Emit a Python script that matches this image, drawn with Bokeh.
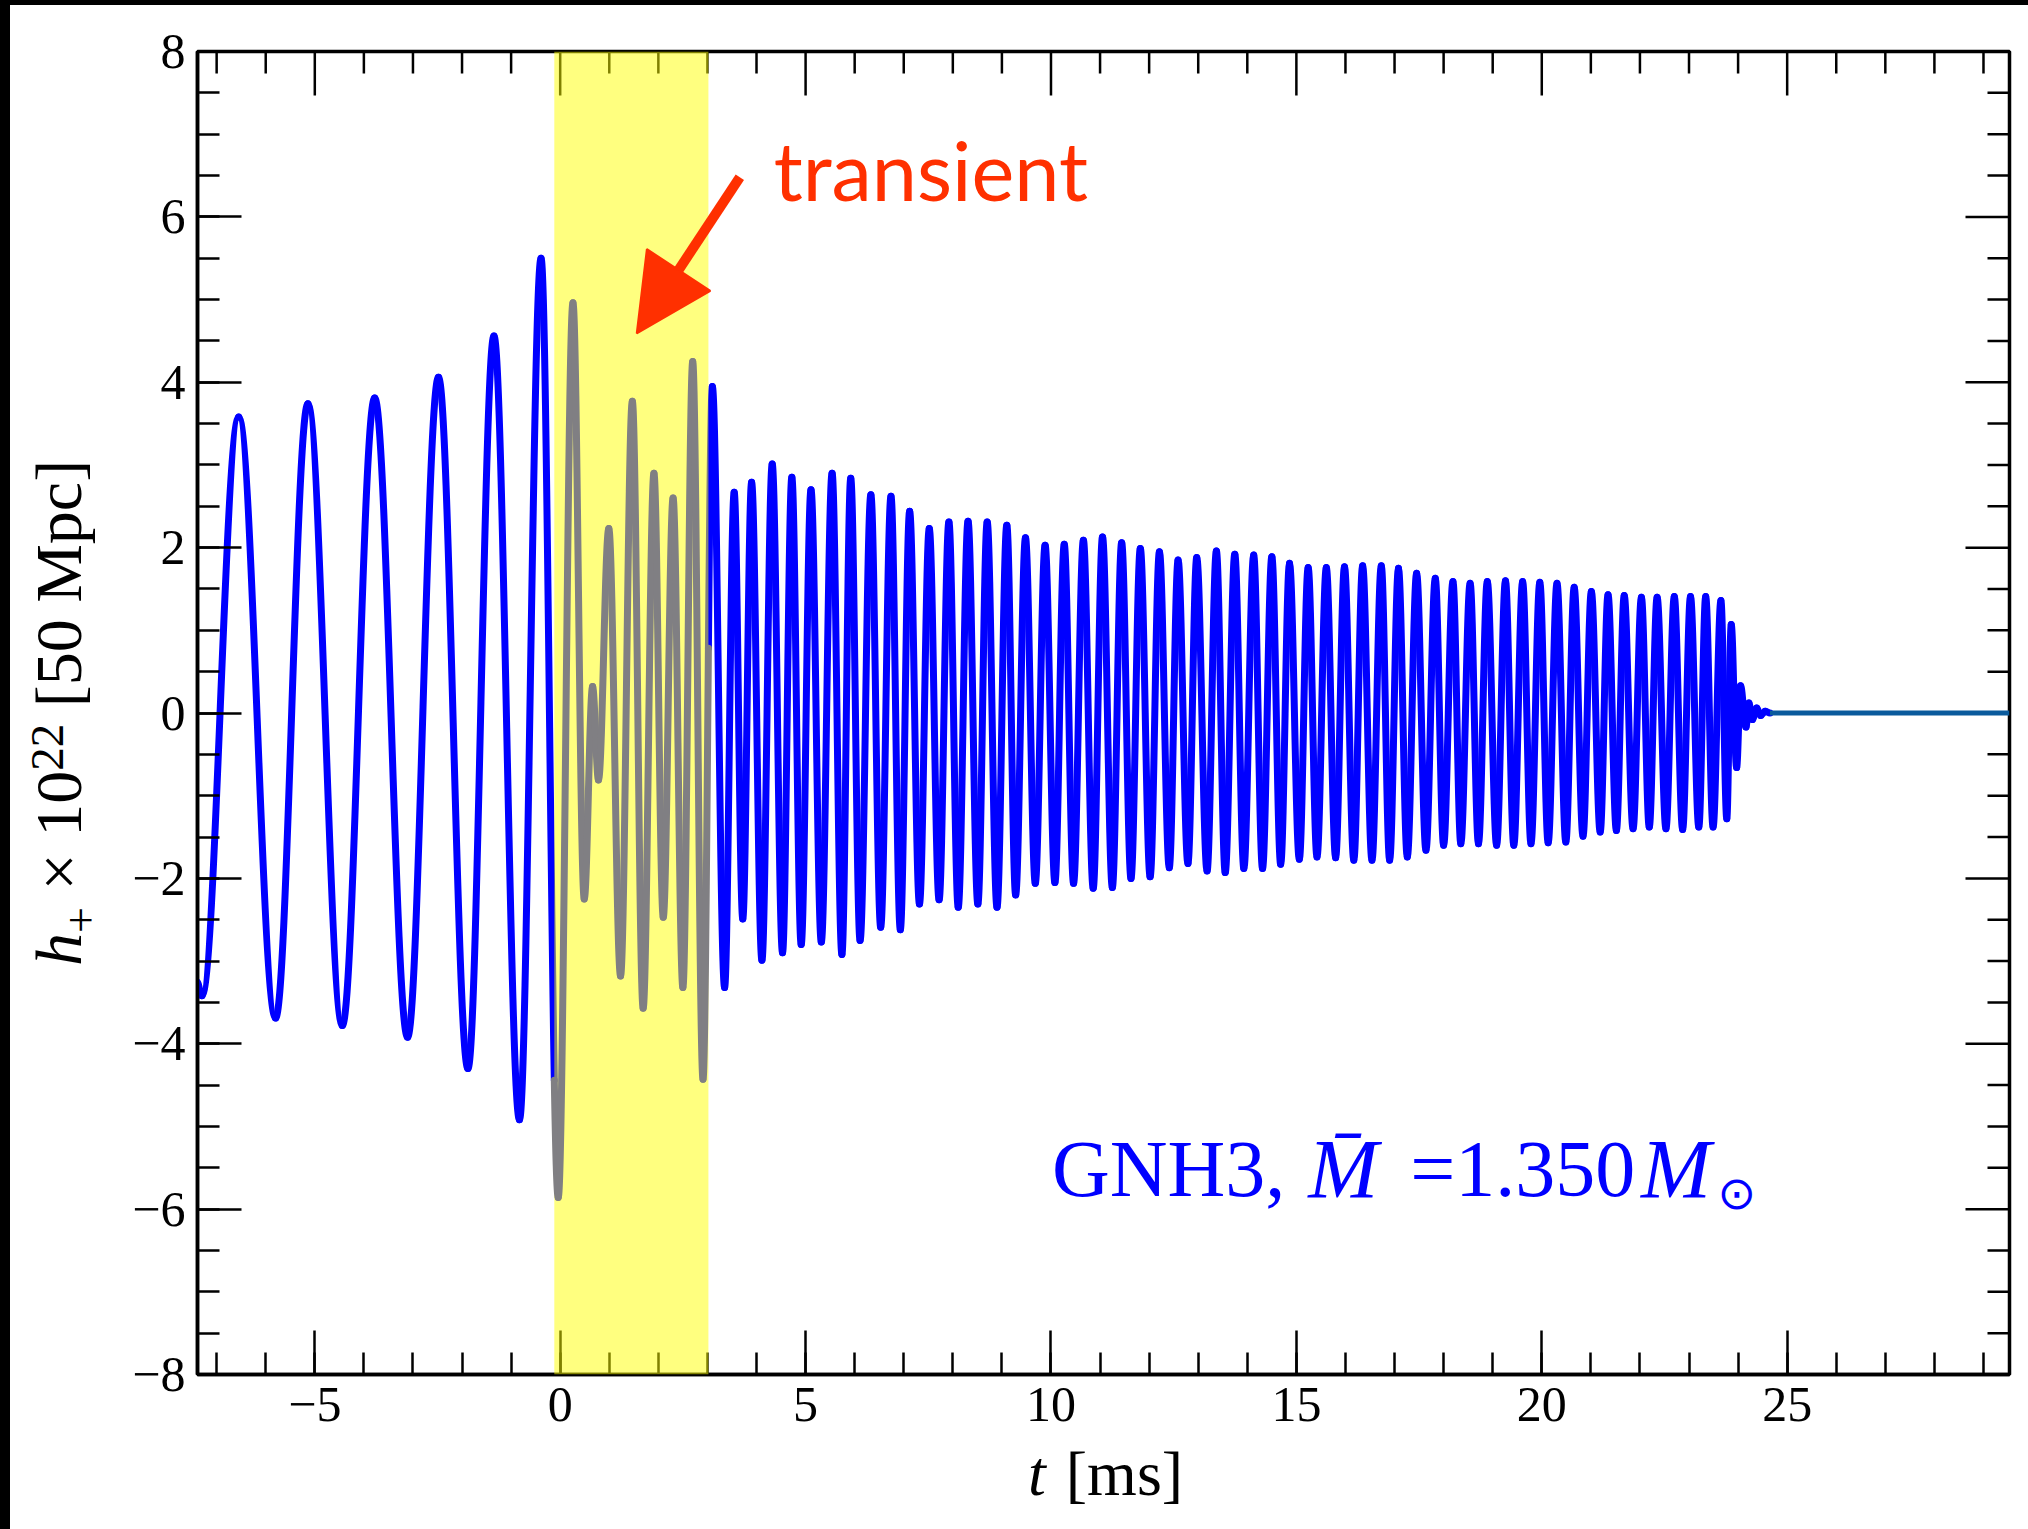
import numpy as np
from bokeh.plotting import figure
from bokeh.models import (Range1d, FixedTicker, BoxAnnotation, Arrow, NormalHead, Label,
                          Spacer, Div, ColumnDataSource, CustomJSTickFormatter)
from bokeh.layouts import column, row
from bokeh.core.properties import value
from bokeh.embed import file_html
from bokeh.resources import INLINE

# ---------------- data: extrema of the waveform ----------------
# t in ms, h_+ x 1e22 at 50 Mpc
inspiral_t = [-7.40, -7.30, -6.55, -5.80, -5.14, -4.44, -3.78, -3.11, -2.48, -1.88, -1.35, -0.83, -0.39]
inspiral_h = [-3.25, -3.42, 3.58, -3.69, 3.74, -3.78, 3.81, -3.92, 4.06, -4.30, 4.56, -4.92, 5.50]

transient_t = [-0.04, 0.26, 0.49, 0.66, 0.78, 0.99, 1.23, 1.47, 1.69, 1.91, 2.10, 2.30, 2.50, 2.70, 2.91]
transient_h = [-5.86, 4.96, -2.25, 0.32, -0.81, 2.23, -3.18, 3.77, -3.57, 2.90, -2.47, 2.60, -3.32, 4.25, -4.43]

postmerger_t = [3.10, 3.35, 3.545, 3.72, 3.90, 4.11, 4.32, 4.53, 4.72, 4.91, 5.11, 5.32, 5.54, 5.74,
                5.92, 6.11, 6.33, 6.53, 6.74, 6.93, 7.12, 7.32, 7.52, 7.72, 7.92, 8.11, 8.31, 8.51,
                8.70, 8.90, 9.10, 9.28, 9.48, 9.68, 9.88, 10.08, 10.27, 10.46, 10.66, 10.86, 11.05,
                11.25, 11.44, 11.63, 11.82, 12.02, 12.21, 12.41, 12.59, 12.79, 12.97, 13.18, 13.37,
                13.55, 13.745, 13.93, 14.13, 14.31, 14.50, 14.68, 14.86, 15.06, 15.24, 15.42, 15.61,
                15.80, 15.98, 16.17, 16.35, 16.54, 16.73, 16.90, 17.08, 17.26, 17.45, 17.64, 17.83,
                18.00, 18.19, 18.35, 18.54, 18.71, 18.89, 19.08, 19.26, 19.43, 19.61, 19.78, 19.96,
                20.13, 20.31, 20.49, 20.66, 20.84, 21.01, 21.19, 21.35, 21.52, 21.68, 21.86, 22.03,
                22.19, 22.35, 22.53, 22.70, 22.87, 23.03, 23.20, 23.34, 23.49, 23.65, 23.77, 23.86,
                23.97, 24.05, 24.16, 24.22, 24.29, 24.38, 24.46, 24.55, 24.65]
postmerger_h = [3.95, -3.32, 2.67, -2.49, 2.79, -2.99, 3.01, -2.90, 2.85, -2.80, 2.70, -2.77,
                2.90, -2.92, 2.84, -2.75, 2.64, -2.59, 2.62, -2.62, 2.44, -2.31, 2.23, -2.26,
                2.31, -2.35, 2.32, -2.31, 2.31, -2.35, 2.27, -2.20, 2.12, -2.06, 2.03, -2.05,
                2.04, -2.06, 2.09, -2.12, 2.13, -2.11, 2.06, -2.00, 1.99, -1.98, 1.95, -1.87,
                1.85, -1.82, 1.88, -1.91, 1.96, -1.93, 1.92, -1.88, 1.91, -1.88, 1.89, -1.83,
                1.81, -1.77, 1.76, -1.74, 1.76, -1.75, 1.77, -1.78, 1.78, -1.78, 1.78, -1.78,
                1.75, -1.74, 1.69, -1.66, 1.63, -1.60, 1.59, -1.58, 1.57, -1.58, 1.59, -1.60,
                1.60, -1.60, 1.59, -1.58, 1.58, -1.57, 1.57, -1.56, 1.52, -1.49, 1.47, -1.44,
                1.43, -1.42, 1.42, -1.40, 1.40, -1.38, 1.40, -1.40, 1.41, -1.41, 1.41, -1.38,
                1.41, -1.38, 1.36, -1.28, 1.07, -0.66, 0.33, -0.17, 0.12, -0.08, 0.06, -0.03,
                0.02, 0.0]

remnant_t = [24.65, 29.53]
remnant_h = [0.0, 0.0]

band_start, band_end = -0.12, 3.02          # transient window [ms]
arrow_from = (3.66, 6.48)
arrow_to = (1.56, 4.59)

x_major = [-5, 0, 5, 10, 15, 20, 25]
x_minor = list(range(-7, 30))
y_major = [-8, -6, -4, -2, 0, 2, 4, 6, 8]
y_minor = [v / 2 for v in range(-16, 17)]

X0, X1 = -7.39, 29.53
Y0, Y1 = -8.0, 8.0

# ---------------- smooth curve through the extrema (cubic Bezier pieces) ----------------
K = 0.36
T = inspiral_t + transient_t + postmerger_t
H = inspiral_h + transient_h + postmerger_h

segs = []
for i in range(len(T) - 1):
    x0, y0, x1, y1 = T[i], H[i], T[i + 1], H[i + 1]
    dx = x1 - x0
    segs.append([np.array([x0, y0]), np.array([x0 + K * dx, y0]),
                 np.array([x1 - K * dx, y1]), np.array([x1, y1])])


def split(seg, s):
    lerp = lambda a, b: a + (b - a) * s
    p01, p12, p23 = lerp(seg[0], seg[1]), lerp(seg[1], seg[2]), lerp(seg[2], seg[3])
    p012, p123 = lerp(p01, p12), lerp(p12, p23)
    m = lerp(p012, p123)
    return [seg[0], p01, p012, m], [m, p123, p23, seg[3]]


def x_at(seg, s):
    return ((1 - s) ** 3 * seg[0][0] + 3 * (1 - s) ** 2 * s * seg[1][0]
            + 3 * (1 - s) * s ** 2 * seg[2][0] + s ** 3 * seg[3][0])


def cut(seg, xc):
    lo, hi = 0.0, 1.0
    for _ in range(60):
        mid = 0.5 * (lo + hi)
        if x_at(seg, mid) < xc:
            lo = mid
        else:
            hi = mid
    return split(seg, 0.5 * (lo + hi))


pieces = []
for seg in segs:
    queue = [seg]
    for edge in (band_start, band_end):
        nxt = []
        for sg in queue:
            if sg[0][0] < edge < sg[3][0]:
                nxt.extend(cut(sg, edge))
            else:
                nxt.append(sg)
        queue = nxt
    pieces.extend(queue)

keys = ("x0", "y0", "cx0", "cy0", "cx1", "cy1", "x1", "y1")
blue = {k: [] for k in keys}
gray = {k: [] for k in keys}
for sg in pieces:
    xm = 0.5 * (sg[0][0] + sg[3][0])
    d = gray if band_start <= xm <= band_end else blue
    for k, v in zip(keys, [sg[0][0], sg[0][1], sg[1][0], sg[1][1], sg[2][0], sg[2][1], sg[3][0], sg[3][1]]):
        d[k].append(float(v))

# ---------------- figure ----------------
SERIF = "Liberation Serif"
FW, FH = 1812, 1323
p = figure(frame_width=FW, frame_height=FH,
           min_border_left=87, min_border_right=19, min_border_top=46, min_border_bottom=76,
           x_range=Range1d(X0, X1), y_range=Range1d(Y0, Y1),
           output_backend="svg", toolbar_location=None,
           background_fill_color="white", border_fill_color="white")
p.outline_line_color = "black"
p.outline_line_width = 3.5
p.xgrid.visible = False
p.ygrid.visible = False

minus_fmt = CustomJSTickFormatter(code="return tick < 0 ? '\\u2212' + Math.abs(tick) : String(tick);")


def style_axis(ax, ticker, standoff):
    ax.ticker = ticker
    ax.formatter = minus_fmt
    ax.axis_line_width = 3.5
    ax.axis_line_color = "black"
    ax.major_tick_in = 44
    ax.major_tick_out = 0
    ax.minor_tick_in = 22
    ax.minor_tick_out = 0
    ax.major_tick_line_width = 2.5
    ax.minor_tick_line_width = 2.5
    ax.major_tick_line_color = "black"
    ax.minor_tick_line_color = "black"
    ax.axis_label = None
    ax.major_label_text_font = SERIF
    ax.major_label_text_font_size = "50px"
    ax.major_label_text_color = "black"
    ax.major_label_standoff = standoff


style_axis(p.xaxis[0], FixedTicker(ticks=x_major, minor_ticks=x_minor), 13)
style_axis(p.yaxis[0], FixedTicker(ticks=y_major, minor_ticks=y_minor), 12)

# mirrored inward ticks on the top and right frame edges
px_x = FW / (X1 - X0)       # pixels per ms
px_y = FH / (Y1 - Y0)       # pixels per unit of h
top_major = [t for t in x_major]
top_minor = [t for t in x_minor if t not in x_major]
right_major = [v for v in y_major if Y0 < v < Y1]
right_minor = [v for v in y_minor if v not in y_major]
p.segment(x0=top_major, x1=top_major, y0=[Y1] * len(top_major), y1=[Y1 - 44 / px_y] * len(top_major),
          line_color="black", line_width=2.5)
p.segment(x0=top_minor, x1=top_minor, y0=[Y1] * len(top_minor), y1=[Y1 - 22 / px_y] * len(top_minor),
          line_color="black", line_width=2.5)
p.segment(x0=[X1] * len(right_major), x1=[X1 - 44 / px_x] * len(right_major), y0=right_major, y1=right_major,
          line_color="black", line_width=2.5)
p.segment(x0=[X1] * len(right_minor), x1=[X1 - 22 / px_x] * len(right_minor), y0=right_minor, y1=right_minor,
          line_color="black", line_width=2.5)

# transient window
band = BoxAnnotation(left=band_start, right=band_end, fill_color="#ffff00", fill_alpha=0.5,
                     line_color=None)
p.add_layout(band)

# waveform
p.bezier(x0="x0", y0="y0", x1="x1", y1="y1", cx0="cx0", cy0="cy0", cx1="cx1", cy1="cy1",
         source=ColumnDataSource(blue), line_color="#0000ff", line_width=7, line_cap="round")
rg = p.bezier(x0="x0", y0="y0", x1="x1", y1="y1", cx0="cx0", cy0="cy0", cx1="cx1", cy1="cy1",
              source=ColumnDataSource(gray), line_color="#807f83", line_width=7, line_cap="round")
rg.level = "overlay"
p.line(remnant_t, remnant_h, line_color="#0a5a9c", line_width=5)

# annotation: transient arrow + text
RED = "#ff3000"
p.add_layout(Arrow(end=NormalHead(size=76, fill_color=RED, line_color=RED, line_width=2),
                   x_start=arrow_from[0], y_start=arrow_from[1],
                   x_end=arrow_to[0], y_end=arrow_to[1],
                   line_color=RED, line_width=10))
p.add_layout(Label(x=4.35, y=6.57, text="transient", text_font="Lato", text_font_size="81px",
                   text_color=RED, text_baseline="alphabetic", text_align="left"))

# model label
BLUE = "#0000ff"
p.text(x=[10.02, 17.32], y=[-5.52, -5.52], text=["GNH3,", "=1.350"],
       text_font=value(SERIF), text_font_size="80px", text_color=BLUE,
       text_baseline="alphabetic", text_align="left")
p.text(x=[15.24, 22.02], y=[-5.52, -5.52], text=["M\u0304", "M"],
       text_font=value(SERIF), text_font_style="italic", text_font_size="84px", text_color=BLUE,
       text_baseline="alphabetic", text_align="left")
p.text(x=[23.58], y=[-5.80], text=["\u2299"],
       text_font=value("DejaVu Sans"), text_font_size="46px", text_color=BLUE,
       text_baseline="alphabetic", text_align="left")

# ---------------- axis titles (HTML text next to the plot) ----------------
YFONT = "font-family:'Liberation Serif',serif; font-size:66px; line-height:66px; color:#000;"
XFONT = "font-family:'Liberation Serif',serif; font-size:64px; line-height:64px; color:#000;"
ylab = Div(width=100, height=1524, margin=0, text=(
    '<div style="position:absolute; left:16px; top:961px; transform:rotate(-90deg); '
    'transform-origin:0 0; white-space:nowrap; ' + YFONT + '">'
    '<i>h</i><span style="position:relative; top:15px; font-size:46px;">+</span>'
    '&nbsp;&#215;&nbsp;10<span style="position:relative; top:-18px; font-size:47px;">22</span>'
    '&nbsp;[50&nbsp;Mpc]</div>'))
xlab = Div(width=1918, height=79, margin=0, text=(
    '<div style="position:absolute; left:918px; top:-8px; white-space:nowrap; ' + XFONT + '">'
    '<i>t</i><span style="margin-left:20px;">[ms]</span></div>'))

# black strips at the top and left edge of the picture
top_strip = Spacer(width=2028, height=5, margin=0, styles={"background-color": "black"})
left_strip = Spacer(width=10, height=1524, margin=0, styles={"background-color": "black"})
layout = column(top_strip, row(left_strip, ylab, column(p, xlab)))

open("out.html", "w").write(file_html(layout, INLINE))
